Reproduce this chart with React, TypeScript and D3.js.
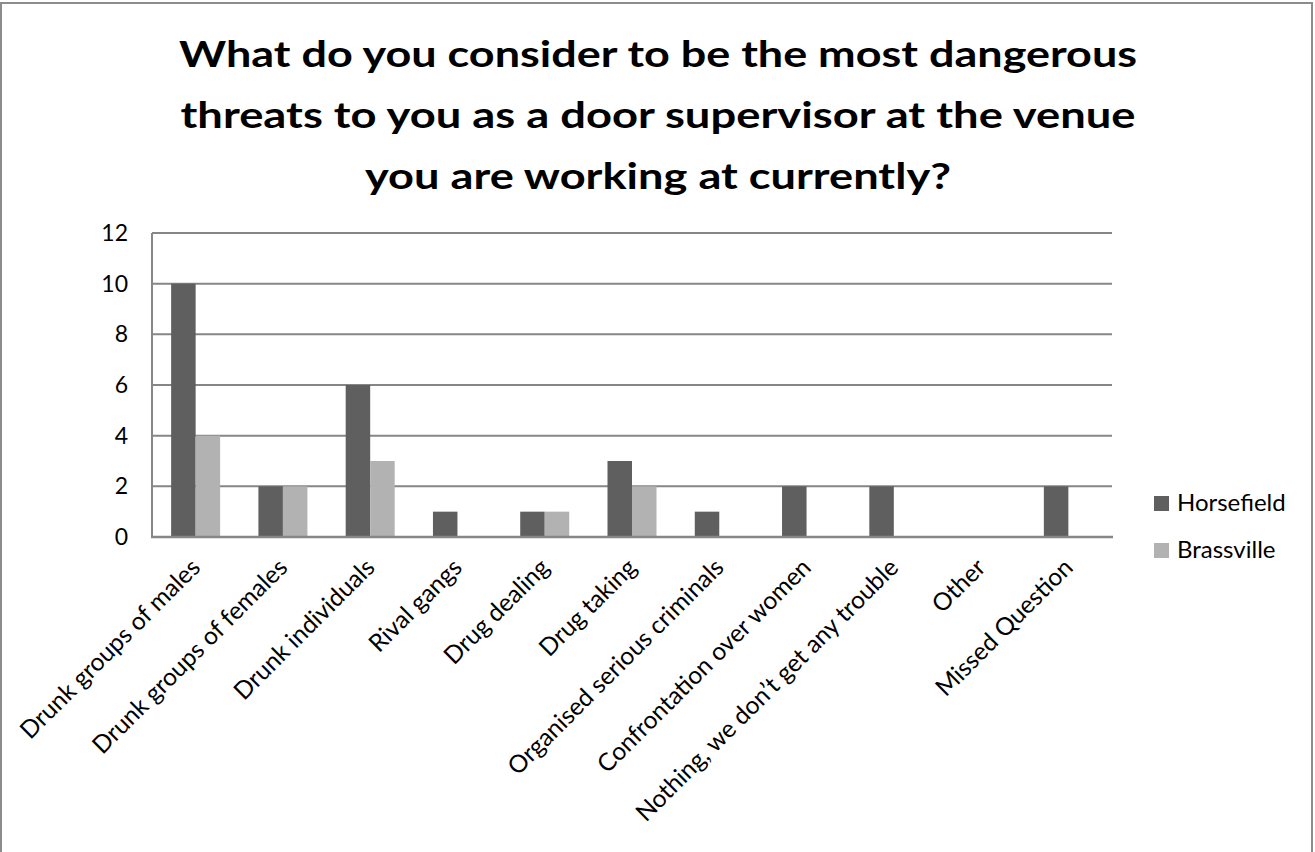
import React from "react";
import * as d3 from "d3";

const categories = [
  "Drunk groups of males",
  "Drunk groups of females",
  "Drunk individuals",
  "Rival gangs",
  "Drug dealing",
  "Drug taking",
  "Organised serious criminals",
  "Confrontation over women",
  "Nothing, we don\u2019t get any trouble",
  "Other",
  "Missed Question",
];
const horsefield = [10, 2, 6, 1, 1, 3, 1, 2, 2, 0, 2];
const brassville = [4, 2, 3, 0, 1, 2, 0, 0, 0, 0, 0];
const seriesNames = ["Horsefield", "Brassville"];
const seriesColors = ["#5f5f5f", "#b2b2b2"];
const yTicks = [0, 2, 4, 6, 8, 10, 12];
const titleLines = [
  "What do you consider to be the most dangerous",
  "threats to you as a door supervisor at the venue",
  "you are working at currently?",
];

const W = 1315;
const H = 852;
const FONT = "Lato, 'Open Sans', sans-serif";

export default function App() {
  const left = 152, right = 1112, top = 233, bottom = 537;
  const x = d3.scaleBand<string>().domain(categories).range([left, right]);
  const y = d3.scaleLinear().domain([0, 12]).range([bottom, top]);
  const barW = 24.5;
  const series = [horsefield, brassville];
  const titleY = [67, 128, 189];
  const titleW = [958, 955, 586];

  return (
    <svg
      width={W}
      height={H}
      style={{ position: "absolute", left: 0, top: 0, background: "#fff" }}
      fontFamily={FONT}
    >
      <rect x={0} y={0} width={W} height={H} fill="#fff" />
      <path d={`M1,${H} V3 H1312 V${H}`} fill="none" stroke="#8c8c8c" strokeWidth={2} />
      {titleLines.map((t, i) => (
        <text
          key={i}
          x={658}
          y={titleY[i]}
          textAnchor="middle"
          fontSize={37}
          fontWeight="bold"
          textLength={titleW[i]}
          lengthAdjust="spacingAndGlyphs"
          fill="#000"
        >
          {t}
        </text>
      ))}
      {yTicks.map((t) => (
        <g key={t}>
          <line x1={left} x2={right} y1={y(t)} y2={y(t)} stroke="#868686" strokeWidth={2} />
          <text x={128} y={y(t)} dy="0.35em" textAnchor="end" fontSize={23} fill="#000">
            {t}
          </text>
        </g>
      ))}
      <line x1={left} x2={left} y1={top} y2={bottom} stroke="#868686" strokeWidth={2} />
      {categories.map((c, i) => {
        const cx = (x(c) as number) + x.bandwidth() / 2;
        return (
          <g key={c}>
            {series.map((s, k) =>
              s[i] > 0 ? (
                <rect
                  key={k}
                  x={cx - barW + k * barW}
                  y={y(s[i])}
                  width={barW}
                  height={bottom - y(s[i])}
                  fill={seriesColors[k]}
                />
              ) : null
            )}
            <text
              transform={`translate(${cx + 6},${bottom + 32}) rotate(-45)`}
              textAnchor="end"
              fontSize={24.5}
              fill="#000"
            >
              {c}
            </text>
          </g>
        );
      })}
      <line x1={left - 1} x2={right + 1} y1={bottom} y2={bottom} stroke="#868686" strokeWidth={2.5} />
      {seriesNames.map((n, k) => (
        <g key={n}>
          <rect x={1154} y={[496, 543][k]} width={15} height={15} fill={seriesColors[k]} />
          <text x={1177} y={[511, 558][k]} fontSize={24} fill="#000">
            {n}
          </text>
        </g>
      ))}
    </svg>
  );
}
